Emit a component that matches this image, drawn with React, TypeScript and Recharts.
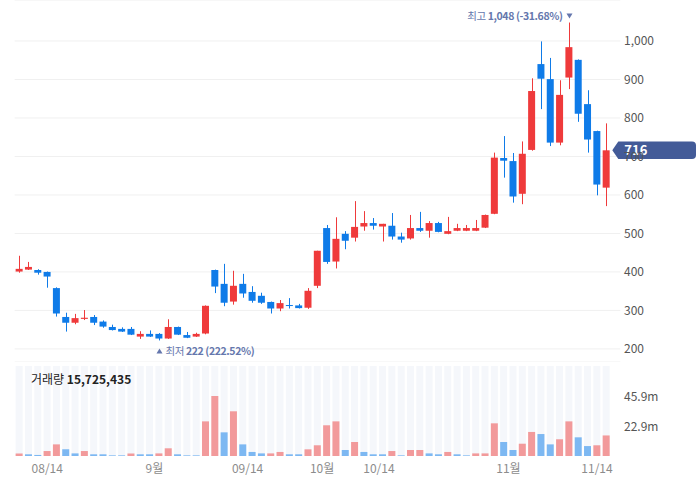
import React from 'react';
import { ComposedChart, Bar, XAxis, YAxis, CartesianGrid, ReferenceLine, Cell } from 'recharts';

// daily candles, index 0 = first trading day shown
const opens = [401, 406, 405, 400, 358, 283, 268, 278, 283, 271, 257, 252, 252, 232, 239, 239, 227, 257, 236, 232, 240, 405, 369, 323, 369, 348, 338, 322, 305, 314, 313, 307, 364, 514, 427, 499, 489, 518, 527, 518, 520, 492, 487, 514, 507, 527, 499, 507, 507, 507, 515, 551, 696, 688, 603, 717, 940, 901, 736, 905, 951, 836, 766, 619];
const highs = [442, 426, 407, 401, 360, 294, 291, 301, 288, 274, 263, 256, 257, 246, 248, 241, 277, 258, 244, 242, 313, 406, 421, 403, 395, 363, 346, 323, 327, 332, 317, 358, 455, 522, 542, 506, 584, 558, 540, 525, 553, 502, 548, 556, 532, 530, 543, 525, 522, 535, 549, 710, 753, 709, 739, 903, 999, 956, 898, 1048, 952, 872, 767, 786];
const lows = [398, 405, 393, 359, 284, 245, 264, 275, 262, 255, 248, 244, 236, 226, 231, 222, 226, 236, 228, 231, 238, 345, 311, 315, 333, 320, 317, 292, 298, 305, 305, 304, 358, 421, 409, 459, 479, 507, 510, 479, 484, 476, 484, 504, 489, 503, 498, 506, 506, 506, 514, 550, 645, 580, 576, 715, 823, 727, 729, 875, 790, 710, 599, 571];
const closes = [408, 413, 398, 388, 292, 268, 280, 281, 268, 258, 249, 245, 237, 239, 232, 227, 257, 237, 229, 239, 312, 362, 320, 364, 344, 325, 320, 305, 319, 313, 306, 351, 455, 426, 486, 481, 517, 527, 520, 525, 492, 484, 514, 507, 527, 504, 506, 514, 514, 514, 548, 697, 689, 596, 707, 870, 902, 736, 860, 984, 811, 744, 627, 716];
// volume in millions of shares
const volumes = [2.0, 1.3, 0.8, 3.8, 8.9, 5.1, 2.0, 3.8, 1.3, 1.3, 0.5, 0.5, 2.0, 1.3, 1.3, 2.0, 5.9, 1.3, 0.5, 0.5, 26.5, 45.9, 18.1, 34.2, 8.9, 3.1, 2.0, 2.0, 3.1, 1.3, 1.3, 5.1, 8.2, 23.5, 26.5, 4.6, 10.7, 3.1, 1.3, 1.3, 3.8, 0.5, 4.6, 4.6, 2.0, 1.3, 3.1, 1.3, 0.5, 2.0, 2.0, 25.0, 10.7, 4.6, 9.4, 18.4, 16.8, 8.9, 12.8, 26.5, 14.3, 7.6, 8.2, 15.725435];
const volumeUp = [1, 0, 0, 1, 1, 0, 0, 1, 0, 0, 0, 0, 1, 0, 0, 1, 1, 0, 0, 0, 1, 1, 0, 1, 0, 0, 0, 1, 1, 0, 0, 1, 1, 1, 1, 0, 1, 0, 0, 0, 1, 0, 1, 1, 0, 0, 1, 0, 0, 1, 1, 1, 0, 0, 1, 1, 0, 0, 1, 1, 0, 0, 1, 1];

const dateTicks = [3, 14.5, 24.5, 32.5, 38.6, 52.5, 62];
const dateLabels = ['08/14', '9월', '09/14', '10월', '10/14', '11월', '11/14'];
const priceTicks = [200, 300, 400, 500, 600, 700, 800, 900, 1000];
const volumeTicks = [22950000, 45900000];

const RED = '#ef3a3b';
const BLUE = '#0f7be8';
const VOL_RED = '#f29a9b';
const VOL_BLUE = '#7db8f2';
const NOTE = '#6577ad';
const FONT = "'Noto Sans CJK KR', 'Noto Sans', sans-serif";

const data = opens.map((o, i) => ({
  i,
  open: o,
  high: highs[i],
  low: lows[i],
  close: closes[i],
  volume: volumes[i] * 1e6,
  up: volumeUp[i] === 1,
}));

const maxHigh = Math.max(...highs);
const minLow = Math.min(...lows);
const last = closes[closes.length - 1];

const fmt = (v: number) => v.toLocaleString('en-US');

const Candle = (props: any) => {
  const { x, y, width, height, payload } = props;
  const { open, close, high, low } = payload;
  const top0 = Math.min(y, y + height);
  const h = Math.abs(height);
  const ratio = h / (high - low);
  const yOf = (v: number) => top0 + (high - v) * ratio;
  const color = close >= open ? RED : BLUE;
  const bTop = yOf(Math.max(open, close));
  const bBot = yOf(Math.min(open, close));
  const cx = Math.round(x + width / 2) + 0.5;
  return (
    <g>
      <line x1={cx} x2={cx} y1={top0} y2={top0 + h} stroke={color} strokeWidth={1} />
      <rect x={x} y={bTop} width={width} height={Math.max(bBot - bTop, 1)} fill={color} />
      {high === maxHigh && (
        <g>
          <text x={cx - 7} y={top0 - 3} textAnchor="end" fontSize={10.5} letterSpacing={-0.4} fill={NOTE} fontFamily={FONT}>
            최고 <tspan fontWeight="bold">{fmt(high)} ({(((last - high) / high) * 100).toFixed(2)}%)</tspan>
          </text>
          <path d={`M${cx - 3},${top0 - 9} L${cx + 3},${top0 - 9} L${cx},${top0 - 4} Z`} fill={NOTE} />
        </g>
      )}
      {low === minLow && (
        <g>
          <path d={`M${cx - 3},${top0 + h + 13} L${cx + 3},${top0 + h + 13} L${cx},${top0 + h + 8} Z`} fill={NOTE} />
          <text x={cx + 6} y={top0 + h + 14.5} textAnchor="start" fontSize={10.5} letterSpacing={-0.4} fill={NOTE} fontFamily={FONT}>
            최저 <tspan fontWeight="bold">{fmt(low)} ({(((last - low) / low) * 100).toFixed(2)}%)</tspan>
          </text>
        </g>
      )}
    </g>
  );
};

const PriceTag = (props: any) => {
  const { viewBox } = props;
  const tip = viewBox.x + viewBox.width - 8;
  const y = viewBox.y;
  const r = 696;
  return (
    <g>
      <path
        d={`M${tip},${y} L${tip + 6},${y - 8.8} L${r - 4},${y - 8.8} Q${r},${y - 8.8} ${r},${y - 4.8} L${r},${y + 4.8} Q${r},${y + 8.8} ${r - 4},${y + 8.8} L${tip + 6},${y + 8.8} Z`}
        fill="#435b98"
      />
      <text x={tip + 12} y={y + 5} fill="#fff" fontSize={13} fontWeight="bold" fontFamily={FONT}>
        {last}
      </text>
    </g>
  );
};

const RightTick = (props: any) => {
  const { y, payload, formatter } = props;
  return (
    <text x={624} y={y + 4.5} fontSize={12} fill="#555" fontFamily={FONT}>
      {formatter(payload.value)}
    </text>
  );
};

const volFmt = (v: number) => (Math.floor(v / 1e5) / 10).toFixed(1) + 'm';

export default function App() {
  return (
    <div style={{ position: 'absolute', left: 0, top: 0, width: 699, height: 481, background: '#fff', fontFamily: FONT }}>
      <ComposedChart width={699} height={362} data={data} margin={{ top: 0, right: 0, left: 14.64, bottom: 0 }}>
        <CartesianGrid vertical={false} stroke="#f0f0f0" />
        <XAxis dataKey="i" type="number" domain={[-0.5, 64.5]} hide />
        <YAxis
          orientation="right"
          width={78.7}
          type="number"
          domain={[166, 1106.5]}
          ticks={priceTicks}
          axisLine={false}
          tickLine={false}
          tick={<RightTick formatter={fmt} />}
        />
        <Bar dataKey={(d: any) => [d.low, d.high]} barSize={7} shape={<Candle />} isAnimationActive={false} />
        <ReferenceLine y={last} stroke="none" label={<PriceTag />} />
      </ComposedChart>
      <div style={{ position: 'absolute', left: 0, top: 362 }}>
        <ComposedChart width={699} height={119} data={data} margin={{ top: 4, right: 0, left: 14.64, bottom: 0 }}>
          <XAxis
            dataKey="i"
            type="number"
            domain={[-0.5, 64.5]}
            ticks={dateTicks}
            tickFormatter={(v: number) => dateLabels[dateTicks.indexOf(v)]}
            axisLine={false}
            tickLine={false}
            height={25}
            tick={{ fontSize: 12, fill: '#8c8c8c', fontFamily: FONT }}
            interval={0}
          />
          <YAxis
            orientation="right"
            width={78.7}
            type="number"
            domain={[0, 68850000]}
            ticks={volumeTicks}
            axisLine={false}
            tickLine={false}
            tick={<RightTick formatter={volFmt} />}
          />
          <Bar dataKey="volume" barSize={7} background={{ fill: '#f5f7fb' }} isAnimationActive={false}>
            {data.map((d, i) => (
              <Cell key={i} fill={d.up ? VOL_RED : VOL_BLUE} />
            ))}
          </Bar>
        </ComposedChart>
      </div>
      <div style={{ position: 'absolute', left: 31, top: 371, fontSize: 12, color: '#222', zIndex: 2, lineHeight: '16px' }}>
        거래량 <b>{fmt(Math.round(volumes[volumes.length - 1] * 1e6))}</b>
      </div>
    </div>
  );
}
